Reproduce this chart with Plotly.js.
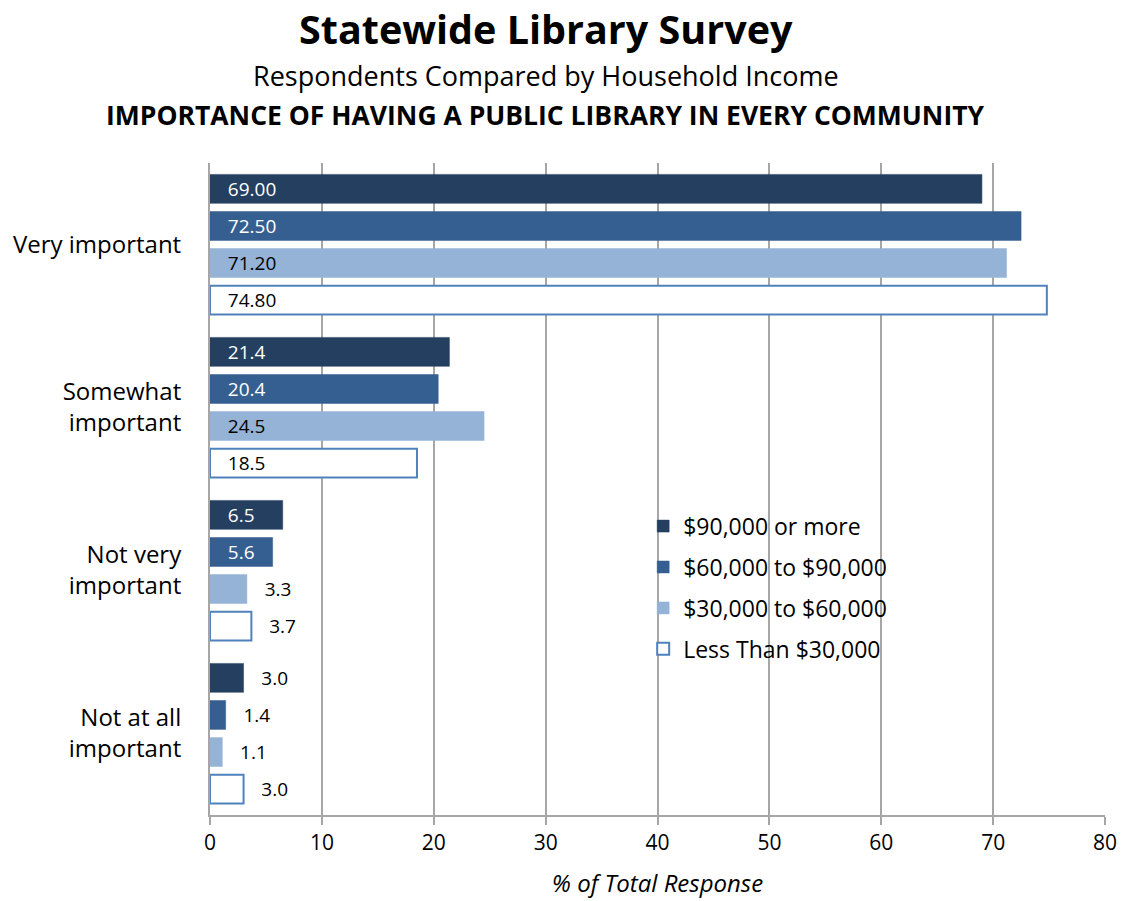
<!DOCTYPE html>
<html>
<head>
<meta charset="utf-8">
<script src="https://cdn.plot.ly/plotly-3.0.1.min.js"></script>
<style>html,body{margin:0;padding:0;background:#fff;}#chart{width:1127px;height:901px;}</style>
</head>
<body>
<div id="chart"></div>
<script>
const categories = ["Very important", "Somewhat<br>important", "Not very<br>important", "Not at all<br>important"];
const decimals = [2, 1, 1, 1];
const seriesNames = ["$90,000 or more", "$60,000 to $90,000", "$30,000 to $60,000", "Less Than $30,000"];
const over90 = [69.0, 21.4, 6.5, 3.0];
const from60to90 = [72.5, 20.4, 5.6, 1.4];
const from30to60 = [71.2, 24.5, 3.3, 1.1];
const under30 = [74.8, 18.5, 3.7, 3.0];
const seriesValues = [over90, from60to90, from30to60, under30];
const xTicks = [0, 10, 20, 30, 40, 50, 60, 70, 80];

const fills = ["#243F60", "#365F91", "#95B3D7", "#FFFFFF"];
const borders = ["#243F60", "#365F91", "#95B3D7", "#4F81BD"];
const insideColors = ["#FFFFFF", "#FFFFFF", "#000000", "#000000"];
const FONT = "Open Sans, Noto Sans, Liberation Sans, sans-serif";

const traces = seriesValues.map((vals, i) => ({
  type: "bar",
  orientation: "h",
  name: seriesNames[i],
  legendgroup: "g" + i,
  y: categories,
  x: vals,
  text: vals.map((v, j) => "   " + v.toFixed(decimals[j])),
  textposition: vals.map(v => v >= 5 ? "inside" : "outside"),
  insidetextanchor: "start",
  textangle: 0,
  constraintext: "none",
  cliponaxis: false,
  insidetextfont: {family: FONT, size: 19, color: insideColors[i]},
  outsidetextfont: {family: FONT, size: 19, color: "#000"},
  marker: {color: fills[i], line: {color: borders[i], width: i === 3 ? 2 : 0.5}},
  hoverinfo: "skip"
}));

const layout = {
  width: 1127, height: 901,
  margin: {l: 210, r: 22, t: 163, b: 86},
  paper_bgcolor: "#fff", plot_bgcolor: "#fff",
  font: {family: FONT, color: "#000"},
  barmode: "group",
  bargap: 0.09,
  bargroupgap: 0.22,
  showlegend: true,
  legend: {
    x: 0.484, y: 0.476, xanchor: "left", yanchor: "top",
    traceorder: "grouped", tracegroupgap: 8,
    font: {family: FONT, size: 23, color: "#000"},
    bgcolor: "rgba(0,0,0,0)"
  },
  xaxis: {
    range: [0, 80], tickvals: xTicks, ticktext: xTicks.map(String),
    showgrid: true, gridcolor: "#A6A6A6", gridwidth: 2,
    showline: true, linecolor: "#A6A6A6", linewidth: 2,
    ticks: "outside", ticklen: 8, tickcolor: "#A6A6A6", tickwidth: 2,
    zeroline: false,
    tickfont: {family: FONT, size: 21, color: "#000"},
    title: {text: "<i>% of Total Response</i>", font: {family: FONT, size: 24, color: "#000"}, standoff: 20},
    fixedrange: true
  },
  yaxis: {
    autorange: "reversed",
    showline: true, linecolor: "#A6A6A6", linewidth: 2,
    ticks: "", ticklabelstandoff: 22,
    tickfont: {family: FONT, size: 24, color: "#000"},
    fixedrange: true
  },
  annotations: [
    {xref: "paper", yref: "paper", x: 0.375, y: 1.205, xanchor: "center", yanchor: "middle",
     text: "<b>Statewide Library Survey</b>", showarrow: false, font: {family: FONT, size: 39.5, color: "#000"}},
    {xref: "paper", yref: "paper", x: 0.375, y: 1.134, xanchor: "center", yanchor: "middle",
     text: "Respondents Compared by Household Income", showarrow: false, font: {family: FONT, size: 27, color: "#000"}},
    {xref: "paper", yref: "paper", x: 0.375, y: 1.074, xanchor: "center", yanchor: "middle",
     text: "<b>IMPORTANCE OF HAVING A PUBLIC LIBRARY IN EVERY COMMUNITY</b>", showarrow: false, font: {family: FONT, size: 26.5, color: "#000"}}
  ]
};

Plotly.newPlot("chart", traces, layout, {displayModeBar: false, staticPlot: true});
</script>
</body>
</html>
